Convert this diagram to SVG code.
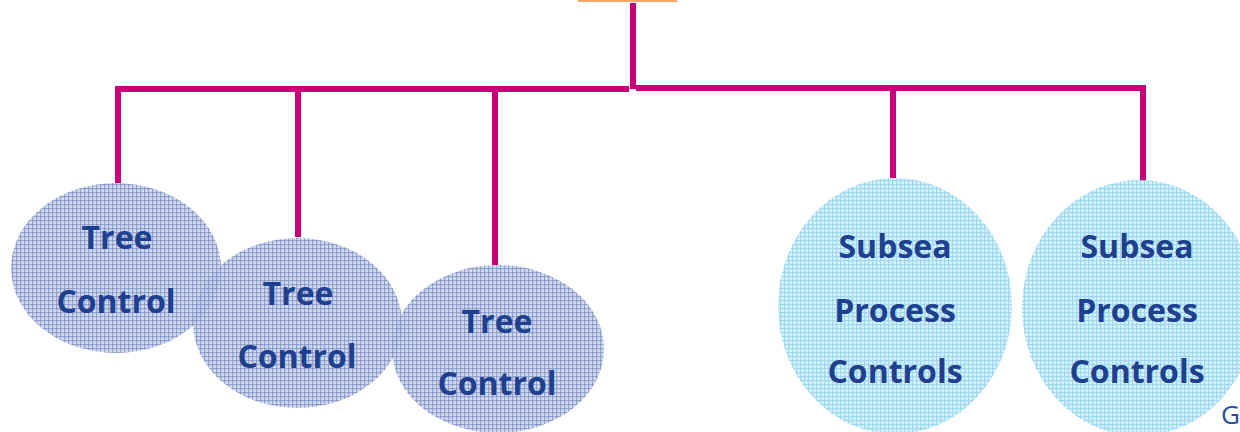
<svg xmlns="http://www.w3.org/2000/svg" width="1240" height="432" viewBox="0 0 1240 432">
<style>
.conn{stroke:#c9007a;stroke-width:6;fill:none;stroke-linecap:butt}
.lbl{font-family:"Open Sans","Liberation Sans",sans-serif;font-weight:bold;font-size:32px;fill:#1f3f8f;text-anchor:middle}
.tree{fill:url(#gridBlue)}
.sub{fill:url(#gridCyan)}
</style>
<defs>
<pattern id="gridBlue" width="4" height="4" patternUnits="userSpaceOnUse">
<rect width="4" height="4" fill="#c5cfe9" fill-opacity="0.8"/>
<rect width="4" height="1.2" fill="#6f86c2" fill-opacity="0.6"/>
<rect width="1.2" height="4" fill="#6f86c2" fill-opacity="0.6"/>
</pattern>
<pattern id="gridCyan" width="4" height="4" patternUnits="userSpaceOnUse">
<rect width="4" height="4" fill="#d6f1fb"/>
<rect width="4" height="1.2" fill="#9fd9f1"/>
<rect width="1.2" height="4" fill="#9fd9f1"/>
</pattern>
</defs>
<rect x="0" y="0" width="1240" height="432" fill="#ffffff"/>
<rect id="top-bar" x="578" y="0" width="99" height="2" fill="#f7a868"/>
<g id="connectors">
<path class="conn" d="M633 3 V89"/>
<path class="conn" d="M118 183 V89 H629"/>
<path class="conn" d="M636 88 H1143 V182"/>
<path class="conn" d="M298 89 V237"/>
<path class="conn" d="M495 89 V265"/>
<path class="conn" d="M893 88 V178"/>
</g>
<g id="tree1">
<ellipse class="tree" cx="116" cy="268" rx="105" ry="85"/>
<text class="lbl" x="117" y="249">Tree</text>
<text class="lbl" x="116" y="313">Control</text>
</g>
<g id="tree2">
<ellipse class="tree" cx="297.5" cy="323" rx="104.5" ry="85"/>
<text class="lbl" x="298" y="305">Tree</text>
<text class="lbl" x="297" y="368">Control</text>
</g>
<g id="tree3">
<ellipse class="tree" cx="498" cy="349" rx="106" ry="84"/>
<text class="lbl" x="497" y="333">Tree</text>
<text class="lbl" x="497" y="395">Control</text>
</g>
<g id="subsea1">
<ellipse class="sub" cx="895" cy="306" rx="117" ry="128"/>
<text class="lbl" x="895" y="258">Subsea</text>
<text class="lbl" x="895" y="322">Process</text>
<text class="lbl" x="895" y="383">Controls</text>
</g>
<g id="subsea2">
<ellipse class="sub" cx="1139" cy="308" rx="117" ry="128"/>
<text class="lbl" x="1137" y="258">Subsea</text>
<text class="lbl" x="1137" y="322">Process</text>
<text class="lbl" x="1137" y="383">Controls</text>
</g>
<text x="1221" y="424" font-family="Open Sans,Liberation Sans,sans-serif" font-size="26" fill="#2a4a9a">G</text>
</svg>
